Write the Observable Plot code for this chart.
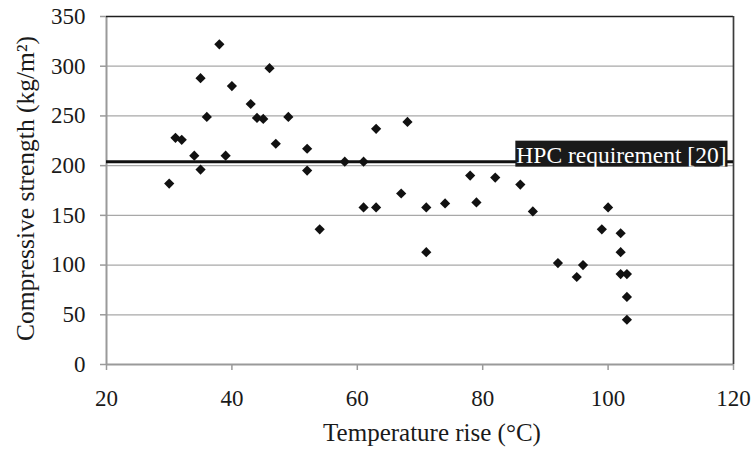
<!DOCTYPE html>
<html>
<head>
<meta charset="utf-8">
<script src="https://cdn.jsdelivr.net/npm/d3@7"></script>
<script src="https://cdn.jsdelivr.net/npm/@observablehq/plot@0.6"></script>
<style>
  html, body { margin: 0; padding: 0; background: #fff; }
</style>
</head>
<body>
<div id="chart"></div>
<script>
// Data
const temperatureRise = [30, 31, 32, 34, 35, 35, 36, 38, 39, 40, 43, 44, 45, 46, 47, 49, 52, 52, 54, 58, 61, 61, 63, 63, 67, 68, 71, 71, 74, 78, 79, 82, 86, 88, 92, 95, 96, 99, 100, 102, 102, 102, 103, 103, 103];
const compressiveStrength = [182, 228, 226, 210, 288, 196, 249, 322, 210, 280, 262, 248, 247, 298, 222, 249, 217, 195, 136, 204, 204, 158, 237, 158, 172, 244, 158, 113, 162, 190, 163, 188, 181, 154, 102, 88, 100, 136, 158, 132, 113, 91, 91, 68, 45];
const xTicks = [20, 40, 60, 80, 100, 120];
const yTicks = [0, 50, 100, 150, 200, 250, 300, 350];
const requirementValue = [204];
const requirementLabel = ["HPC requirement [20]"];
const xTitle = ["Temperature rise (°C)"];
const yTitle = ["Compressive strength (kg/m²)"];

const points = temperatureRise.map((t, i) => ({ t, s: compressiveStrength[i] }));

// Pick an installed Times-like serif font
const ctx = document.createElement("canvas").getContext("2d");
const sample = "HPC requirement [20] abcdefghijklmnopqrstuvwxyz 0123456789";
function width(font) { ctx.font = font; return ctx.measureText(sample).width; }
function installed(f) {
  return width(`100px monospace`) !== width(`100px "${f}", monospace`) ||
         width(`100px sans-serif`) !== width(`100px "${f}", sans-serif`);
}
const candidates = ["Liberation Serif", "Tinos", "Times New Roman", "Nimbus Roman", "Nimbus Roman No9 L", "FreeSerif", "Noto Serif", "DejaVu Serif"];
const serif = candidates.find(installed) || "serif";
ctx.font = `100px "${serif}"`;
const k = Math.min(1, 894.3 / ctx.measureText("HPC requirement [20]").width);
const fs = v => +(v * k).toFixed(2);

const chart = Plot.plot({
  width: 752,
  height: 475,
  marginLeft: 106,
  marginRight: 19,
  marginTop: 16,
  marginBottom: 111,
  style: { fontFamily: serif, fontSize: fs(23) + "px", color: "#1a1a1a", background: "#fff", overflow: "visible" },
  x: { domain: [20, 120] },
  y: { domain: [0, 350] },
  marks: [
    Plot.ruleY(yTicks.filter(v => v > 0 && v < 350), { stroke: "#a8a8a8", strokeWidth: 1.3 }),
    Plot.ruleY([0], { stroke: "#9a9a9a", strokeWidth: 2 }),
    Plot.ruleX([20], { stroke: "#9a9a9a", strokeWidth: 2 }),
    Plot.ruleY([350], { stroke: "#1e1e1e", strokeWidth: 1.7 }),
    Plot.ruleX([120], { stroke: "#3c3c3c", strokeWidth: 1.7 }),
    Plot.axisX({ ticks: xTicks, tickSize: 6, tickPadding: 19, stroke: "#9a9a9a", strokeWidth: 1.5, fill: "#1a1a1a", label: null, fontSize: fs(23), fontFamily: serif }),
    Plot.axisY({ ticks: yTicks, tickSize: 6, tickPadding: 15, stroke: "#9a9a9a", strokeWidth: 1.5, fill: "#1a1a1a", label: null, fontSize: fs(23), fontFamily: serif }),
    Plot.ruleY(requirementValue, { stroke: "#111", strokeWidth: 3 }),
    Plot.dot(points, { x: "t", y: "s", symbol: "diamond2", r: 4.6, fill: "#111", stroke: "none" }),
    Plot.text(requirementLabel, { x: 120, y: () => requirementValue[0], text: d => d, textAnchor: "end", lineAnchor: "bottom", dx: -7, dy: 1, fill: "#fff", fontSize: fs(23.5), fontFamily: serif, className: "hpc-label" }),
    Plot.text(xTitle, { frameAnchor: "bottom", text: d => d, textAnchor: "middle", dy: 76, dx: 12, lineAnchor: "bottom", fontSize: fs(25), fontFamily: serif, fill: "#1a1a1a" }),
    Plot.text(yTitle, { frameAnchor: "left", text: d => d, textAnchor: "middle", rotate: -90, dx: -73, dy: -2, lineAnchor: "bottom", fontSize: fs(25.5), fontFamily: serif, fill: "#1a1a1a" })
  ]
});

document.getElementById("chart").appendChild(chart);

// Black background box behind the requirement label
d3.select(chart).selectAll("g.hpc-label text").each(function () {
  const bb = this.getBBox();
  const rect = document.createElementNS("http://www.w3.org/2000/svg", "rect");
  rect.setAttribute("x", bb.x - 1);
  rect.setAttribute("y", bb.y - 1);
  rect.setAttribute("width", bb.width + 2);
  rect.setAttribute("height", bb.height);
  rect.setAttribute("fill", "#1a1a1a");
  const tr = this.getAttribute("transform");
  if (tr) rect.setAttribute("transform", tr);
  this.parentNode.insertBefore(rect, this);
});
</script>
</body>
</html>
